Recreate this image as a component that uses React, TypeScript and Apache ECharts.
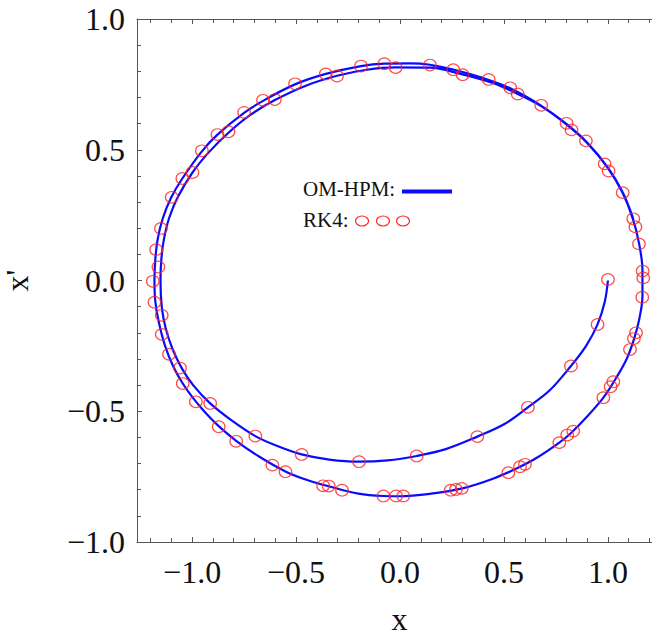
import React, { useEffect, useRef } from "react";
import * as echarts from "echarts";

// OM-HPM trajectory (x, x'), first loop (inner) then second loop (outer)
const omhpmLoop1: [number, number][] = [
  [1.0, 0.0], [0.985, -0.08], [0.95, -0.168], [0.895, -0.25], [0.822, -0.327],
  [0.72, -0.42], [0.615, -0.485], [0.5, -0.55], [0.372, -0.597], [0.22, -0.645],
  [0.08, -0.671], [-0.06, -0.688], [-0.197, -0.693], [-0.34, -0.685], [-0.473, -0.665],
  [-0.59, -0.633], [-0.696, -0.595], [-0.81, -0.535], [-0.913, -0.47], [-0.995, -0.4],
  [-1.05, -0.335], [-1.095, -0.26], [-1.128, -0.18], [-1.146, -0.1], [-1.152, 0.0],
  [-1.148, 0.08], [-1.135, 0.16], [-1.11, 0.24], [-1.068, 0.32], [-0.998, 0.413],
  [-0.92, 0.49], [-0.825, 0.565], [-0.72, 0.633], [-0.602, 0.69], [-0.45, 0.746],
  [-0.303, 0.783], [-0.16, 0.806], [-0.021, 0.815], [0.144, 0.814], [0.3, 0.788],
  [0.45, 0.754], [0.566, 0.713], [0.68, 0.666], [0.8, 0.597], [0.9, 0.526],
  [1.0, 0.43], [1.07, 0.336], [1.12, 0.236], [1.15, 0.14], [1.166, 0.04],
  [1.166, -0.06], [1.15, -0.15], [1.125, -0.225], [1.09, -0.3], [1.04, -0.372],
  [0.98, -0.446], [0.9, -0.52], [0.82, -0.585],
];
const omhpmLoop2: [number, number][] = [
  [0.766, -0.62], [0.66, -0.677], [0.565, -0.717], [0.45, -0.757], [0.3, -0.795],
  [0.15, -0.815], [0.0, -0.825], [-0.08, -0.824], [-0.2, -0.815], [-0.343, -0.787],
  [-0.45, -0.762], [-0.551, -0.73], [-0.68, -0.672], [-0.788, -0.613], [-0.872, -0.557],
  [-0.94, -0.502], [-0.995, -0.45], [-1.045, -0.394], [-1.09, -0.33], [-1.13, -0.25],
  [-1.16, -0.16], [-1.177, -0.08], [-1.181, 0.0], [-1.177, 0.08], [-1.165, 0.16],
  [-1.14, 0.24], [-1.1, 0.318], [-1.047, 0.39], [-0.953, 0.494], [-0.878, 0.558],
  [-0.75, 0.641], [-0.659, 0.687], [-0.505, 0.75], [-0.357, 0.79], [-0.1875, 0.82],
  [-0.075, 0.829], [0.05, 0.83], [0.144, 0.825], [0.256, 0.807], [0.4, 0.774],
  [0.53, 0.735], [0.68, 0.668], [0.8, 0.599], [0.9, 0.528], [1.0, 0.432],
  [1.072, 0.336], [1.122, 0.236],
];

// RK4 sample points
const rk4Top: [number, number][] = [
  [-1.098, 0.318], [-1.047, 0.39], [-0.998, 0.413], [-0.953, 0.496], [-0.878, 0.558],
  [-0.825, 0.569], [-0.75, 0.643], [-0.659, 0.689], [-0.602, 0.692], [-0.505, 0.752],
  [-0.357, 0.79], [-0.303, 0.782], [-0.1875, 0.82], [-0.075, 0.829], [-0.021, 0.814],
  [0.144, 0.824], [0.256, 0.806], [0.301, 0.787], [0.426, 0.769], [0.53, 0.737],
  [0.566, 0.713], [0.679, 0.67], [0.801, 0.601], [0.825, 0.576], [0.894, 0.534],
  [0.984, 0.446], [1.003, 0.419], [1.071, 0.336],
];
const rk4Right: [number, number][] = [
  [1.122, 0.236], [1.132, 0.205], [1.149, 0.14], [1.167, 0.036], [1.17, 0.01],
  [1.165, -0.064], [1.135, -0.2], [1.125, -0.222], [1.106, -0.264], [1.026, -0.387],
  [1.013, -0.406], [0.978, -0.448], [0.833, -0.576], [0.804, -0.591],
];
const rk4Inner: [number, number][] = [
  [1.0, 0.004], [0.95, -0.168], [0.822, -0.327], [0.615, -0.485], [0.372, -0.597],
  [0.08, -0.671], [-0.197, -0.693], [-0.473, -0.665], [-0.696, -0.595], [-0.913, -0.47],
  [-1.058, -0.335],
];
const rk4Bottom: [number, number][] = [
  [0.766, -0.62], [0.601, -0.703], [0.577, -0.712], [0.521, -0.735], [0.297, -0.795],
  [0.269, -0.799], [0.244, -0.802], [0.016, -0.824], [-0.019, -0.824], [-0.08, -0.824],
  [-0.279, -0.802], [-0.343, -0.786], [-0.37, -0.785], [-0.551, -0.731], [-0.614, -0.706],
  [-0.788, -0.615], [-0.872, -0.559], [-0.982, -0.464], [-1.045, -0.394],
];
const rk4Left: [number, number][] = [
  [-1.15, 0.199], [-1.173, 0.118], [-1.162, 0.052], [-1.189, -0.003], [-1.181, -0.083],
  [-1.146, -0.133], [-1.146, -0.206], [-1.111, -0.282],
];

const xRange: [number, number] = [-1.265, 1.26];
const yRange: [number, number] = [-1.0, 1.0];
const axisTitles = { x: "x", y: "x'" };
const legendNames = { line: "OM-HPM:", points: "RK4:" };

const SERIF = "'Liberation Serif', 'Times New Roman', serif";
const fmt = (v: number) => v.toFixed(1).replace("-", "\u2212");

export default function App() {
  const ref = useRef<HTMLDivElement>(null);
  useEffect(() => {
    if (!ref.current) return;
    const chart = echarts.init(ref.current, undefined, { renderer: "svg" });
    const axisLine = { show: true, onZero: false, lineStyle: { color: "#555", width: 1 } };
    const axisTick = { show: true, inside: true, length: 5, lineStyle: { color: "#555" } };
    const minorTick = { show: true, splitNumber: 5, length: 4, lineStyle: { color: "#555" } };
    const label = { fontFamily: SERIF, fontSize: 32, color: "#111", formatter: fmt };
    const rk4All = [...rk4Top, ...rk4Right, ...rk4Inner, ...rk4Bottom, ...rk4Left];
    chart.setOption({
      animation: false,
      backgroundColor: "#fff",
      grid: { left: 137, top: 19, width: 525, height: 523, containLabel: false, outerBoundsMode: "none" },
      xAxis: [
        {
          type: "value", position: "bottom", min: xRange[0], max: xRange[1], splitNumber: 5,
          axisLine, axisTick, minorTick, splitLine: { show: false },
          axisLabel: { ...label, margin: 14, showMinLabel: false, showMaxLabel: false },
          name: axisTitles.x, nameLocation: "middle", nameGap: 61,
          nameTextStyle: { fontFamily: SERIF, fontSize: 32, color: "#111" },
        },
        {
          type: "value", position: "top", min: xRange[0], max: xRange[1], splitNumber: 5,
          axisLine, axisTick, minorTick, splitLine: { show: false }, axisLabel: { show: false },
        },
      ],
      yAxis: [
        {
          type: "value", position: "left", min: yRange[0], max: yRange[1], interval: 0.5,
          axisLine, axisTick, minorTick, splitLine: { show: false },
          axisLabel: { ...label, margin: 12 },
          name: axisTitles.y, nameLocation: "middle", nameGap: 104, nameRotate: 90,
          nameTextStyle: { fontFamily: SERIF, fontSize: 32, color: "#111" },
        },
        {
          type: "value", position: "right", min: yRange[0], max: yRange[1], interval: 0.5,
          axisLine, axisTick, minorTick, splitLine: { show: false }, axisLabel: { show: false },
        },
      ],
      series: [
        {
          name: "OM-HPM", type: "line", data: [...omhpmLoop1, ...omhpmLoop2], smooth: 0.35,
          showSymbol: false, symbol: "none", lineStyle: { color: "#0a0aff", width: 2.2 }, z: 2,
        },
        {
          name: "RK4", type: "scatter", data: rk4All, symbol: "circle", symbolSize: [12.5, 11.5],
          itemStyle: { color: "rgba(0,0,0,0)", borderColor: "#ff2020", borderWidth: 1.2 }, z: 3,
        },
      ],
      graphic: [
        { type: "text", left: 303, top: 178, style: { text: legendNames.line, font: `21px ${SERIF}`, fill: "#111" } },
        { type: "line", shape: { x1: 402, y1: 191.5, x2: 452, y2: 191.5 }, style: { stroke: "#0a0aff", lineWidth: 4 } },
        { type: "text", left: 303, top: 209, style: { text: legendNames.points, font: `21px ${SERIF}`, fill: "#111" } },
        { type: "ellipse", shape: { cx: 362, cy: 221, rx: 6.5, ry: 5 }, style: { stroke: "#ff2020", fill: "none", lineWidth: 1.2 } },
        { type: "ellipse", shape: { cx: 383, cy: 221, rx: 6.5, ry: 5 }, style: { stroke: "#ff2020", fill: "none", lineWidth: 1.2 } },
        { type: "ellipse", shape: { cx: 403, cy: 221, rx: 6.5, ry: 5 }, style: { stroke: "#ff2020", fill: "none", lineWidth: 1.2 } },
      ],
    });
    return () => chart.dispose();
  }, []);
  return <div ref={ref} style={{ position: "fixed", left: 0, top: 0, width: 652, height: 640 }} />;
}
